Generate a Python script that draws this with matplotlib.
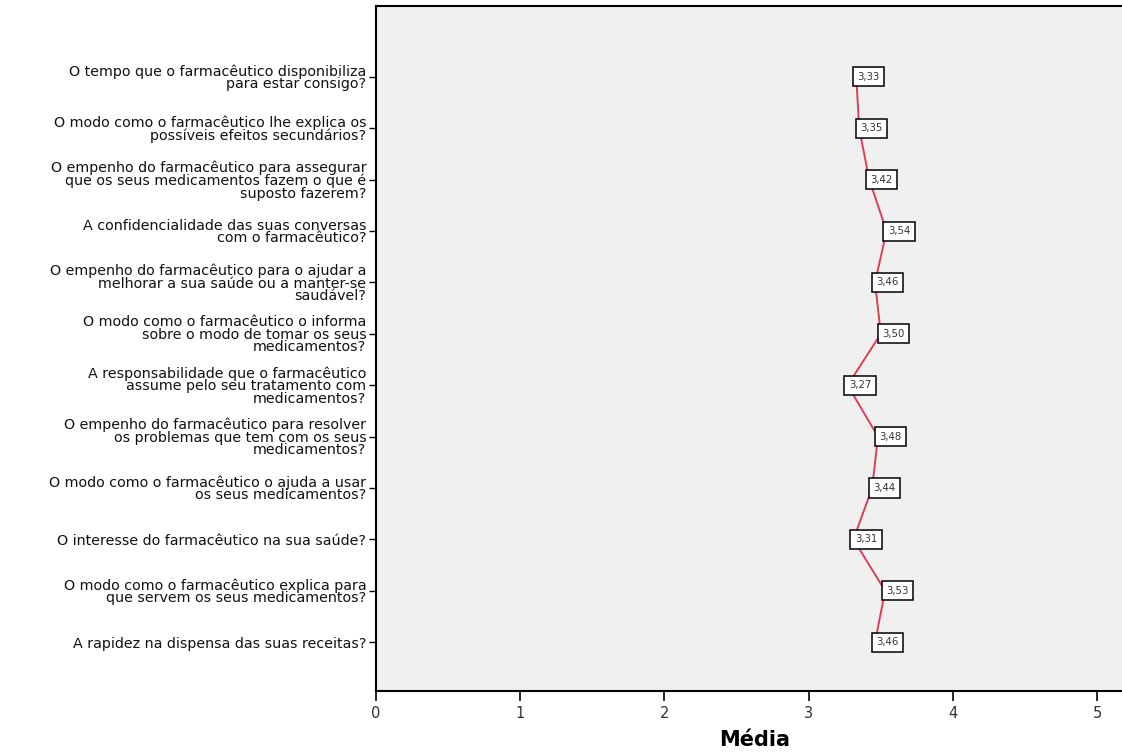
import matplotlib
matplotlib.use("Agg")
import matplotlib.pyplot as plt

categories = [
    "O tempo que o farmacêutico disponibiliza\npara estar consigo?",
    "O modo como o farmacêutico lhe explica os\npossíveis efeitos secundários?",
    "O empenho do farmacêutico para assegurar\nque os seus medicamentos fazem o que é\nsuposto fazerem?",
    "A confidencialidade das suas conversas\ncom o farmacêutico?",
    "O empenho do farmacêutico para o ajudar a\nmelhorar a sua saúde ou a manter-se\nsaudável?",
    "O modo como o farmacêutico o informa\nsobre o modo de tomar os seus\nmedicamentos?",
    "A responsabilidade que o farmacêutico\nassume pelo seu tratamento com\nmedicamentos?",
    "O empenho do farmacêutico para resolver\nos problemas que tem com os seus\nmedicamentos?",
    "O modo como o farmacêutico o ajuda a usar\nos seus medicamentos?",
    "O interesse do farmacêutico na sua saúde?",
    "O modo como o farmacêutico explica para\nque servem os seus medicamentos?",
    "A rapidez na dispensa das suas receitas?",
]
means = [3.33, 3.35, 3.42, 3.54, 3.46, 3.50, 3.27, 3.48, 3.44, 3.31, 3.53, 3.46]
x_ticks = [0, 1, 2, 3, 4, 5]

plt.rcParams['font.family'] = ['DejaVu Sans']

fig = plt.figure(figsize=(11.22, 7.56), dpi=100)
ax = fig.add_axes([376/1122, 1-691/756, 1-376/1122 + 0.01, (691-6)/756])
ax.set_facecolor('#f0f0f0')

ypos = list(range(len(categories)))
ax.plot(means, ypos, color='#d9405a', lw=1.4, zorder=2)
for m, y in zip(means, ypos):
    ax.annotate(f"{m:.2f}".replace('.', ','), (m, y), xytext=(9, 0),
                textcoords='offset points', ha='center', va='center',
                fontsize=7.3, color='#333333', zorder=3,
                bbox=dict(boxstyle='square,pad=0.45', fc='white', ec='black', lw=1.1))

ax.set_xlim(0, 5.25)
ax.set_ylim(len(categories) - 1 + 0.95, -1.38)
ax.set_yticks(ypos)
ax.set_yticklabels(categories, fontsize=10.3, linespacing=0.88, color='#111111')
ax.set_xticks(x_ticks)
ax.set_xticklabels([str(t) for t in x_ticks], fontsize=10.5, color='#333333')
ax.tick_params(axis='y', length=5, width=1.0, pad=2)
ax.tick_params(axis='x', length=7, width=1.2, pad=4)
for s in ['left', 'bottom', 'top']:
    ax.spines[s].set_linewidth(1.5)
ax.spines['right'].set_visible(False)
ax.set_xlabel("Média", fontsize=15, fontweight='bold', labelpad=6)

fig.savefig("out.png", dpi=100)
